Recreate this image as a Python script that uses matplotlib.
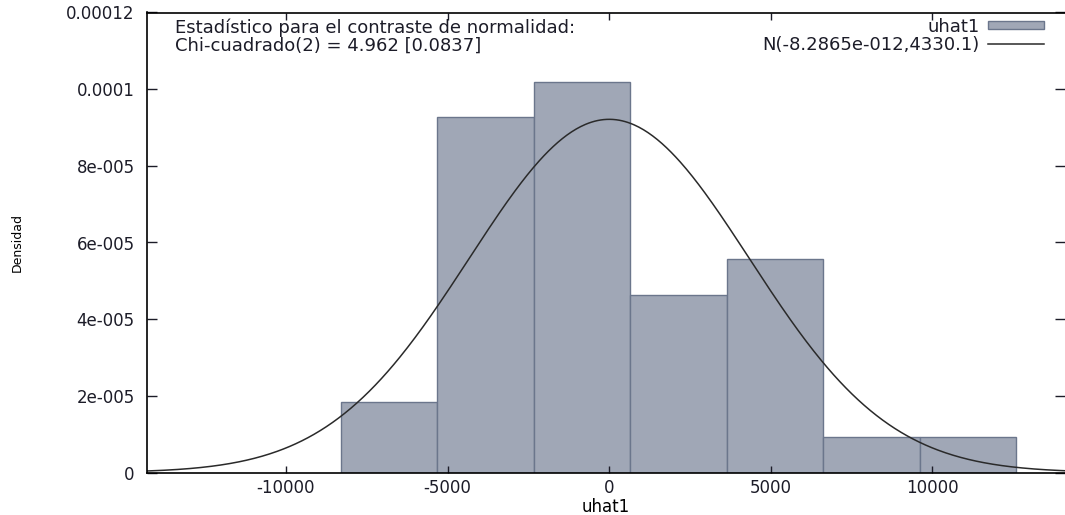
# -*- coding: utf-8 -*-

import numpy as np
import matplotlib
matplotlib.use('Agg')
import matplotlib.pyplot as plt

# global plotting options
plt.rcParams['font.family'] = 'DejaVu Sans'
plt.rcParams['font.size'] = 12
plt.rcParams['text.color'] = '#1c1c28'
plt.rcParams['xtick.color'] = '#1c1c28'
plt.rcParams['ytick.color'] = '#1c1c28'

# histogram of residuals (bin edges and densities)
bin_edges = [-8310, -5324, -2338, 648, 3634, 6620, 9606, 12591]
density = [1.85e-5, 9.27e-5, 1.018e-4, 4.64e-5, 5.57e-5, 9.25e-6, 9.25e-6]

# normal fit parameters
mu = -8.2865e-12
sigma = 4330.1

xticks = [-10000, -5000, 0, 5000, 10000]
xticklabels = ['-10000', '-5000', '0', '5000', '10000']
yticks = [0, 2e-5, 4e-5, 6e-5, 8e-5, 1e-4, 1.2e-4]
yticklabels = ['0', '2e-005', '4e-005', '6e-005', '8e-005', '0.0001', '0.00012']

stat_text = ('Estadístico para el contraste de normalidad:\n'
             'Chi-cuadrado(2) = 4.962 [0.0837]')

# %% plot

fig = plt.figure(figsize=(10.65, 5.15), dpi=100)
ax = fig.add_axes([147 / 1065, 42.5 / 515, 918 / 1065, 460 / 515])

edges = np.array(bin_edges)
bars = ax.bar(edges[:-1], density, width=np.diff(edges), align='edge',
              color='#a0a7b6', edgecolor='#6b768c', linewidth=1.0,
              label='uhat1', zorder=1)

xlim = (-14300, 14100)
xs = np.linspace(xlim[0], xlim[1], 600)
pdf = np.exp(-0.5 * ((xs - mu) / sigma) ** 2) / (sigma * np.sqrt(2 * np.pi))
line, = ax.plot(xs, pdf, color='#2a2a2a', linewidth=1.1,
                label='N(-8.2865e-012,4330.1)', zorder=2)

ax.set_xlim(*xlim)
ax.set_ylim(0, 1.2e-4)
ax.set_xticks(xticks)
ax.set_xticklabels(xticklabels)
ax.set_yticks(yticks)
ax.set_yticklabels(yticklabels)
ax.tick_params(axis='x', direction='in', top=True, length=5, width=1, pad=5)
ax.tick_params(axis='y', direction='in', right=True, length=7, width=1,
               pad=9)

ax.spines['right'].set_visible(False)
for s in ['left', 'bottom', 'top']:
    ax.spines[s].set_linewidth(1.2)

ax.set_xlabel('uhat1')
ax.set_ylabel('Densidad', fontsize=9)
ax.xaxis.label.set_va('center')
ax.yaxis.label.set_va('center')
ax.xaxis.set_label_coords(0.5, -0.074)
ax.yaxis.set_label_coords(-0.141, 0.5)

ax.text(0.0305, 0.988, stat_text, transform=ax.transAxes, fontsize=13,
        ha='left', va='top', linespacing=1.0)

ax.legend(handles=[bars, line], loc='upper right', frameon=False,
          markerfirst=False, handlelength=3.1, handleheight=0.32,
          labelspacing=0.0, borderaxespad=0, borderpad=0, fontsize=13,
          handletextpad=0.45, bbox_to_anchor=(1 - 21 / 918, 1 - 5 / 460))

fig.savefig('out.png', dpi=100)
